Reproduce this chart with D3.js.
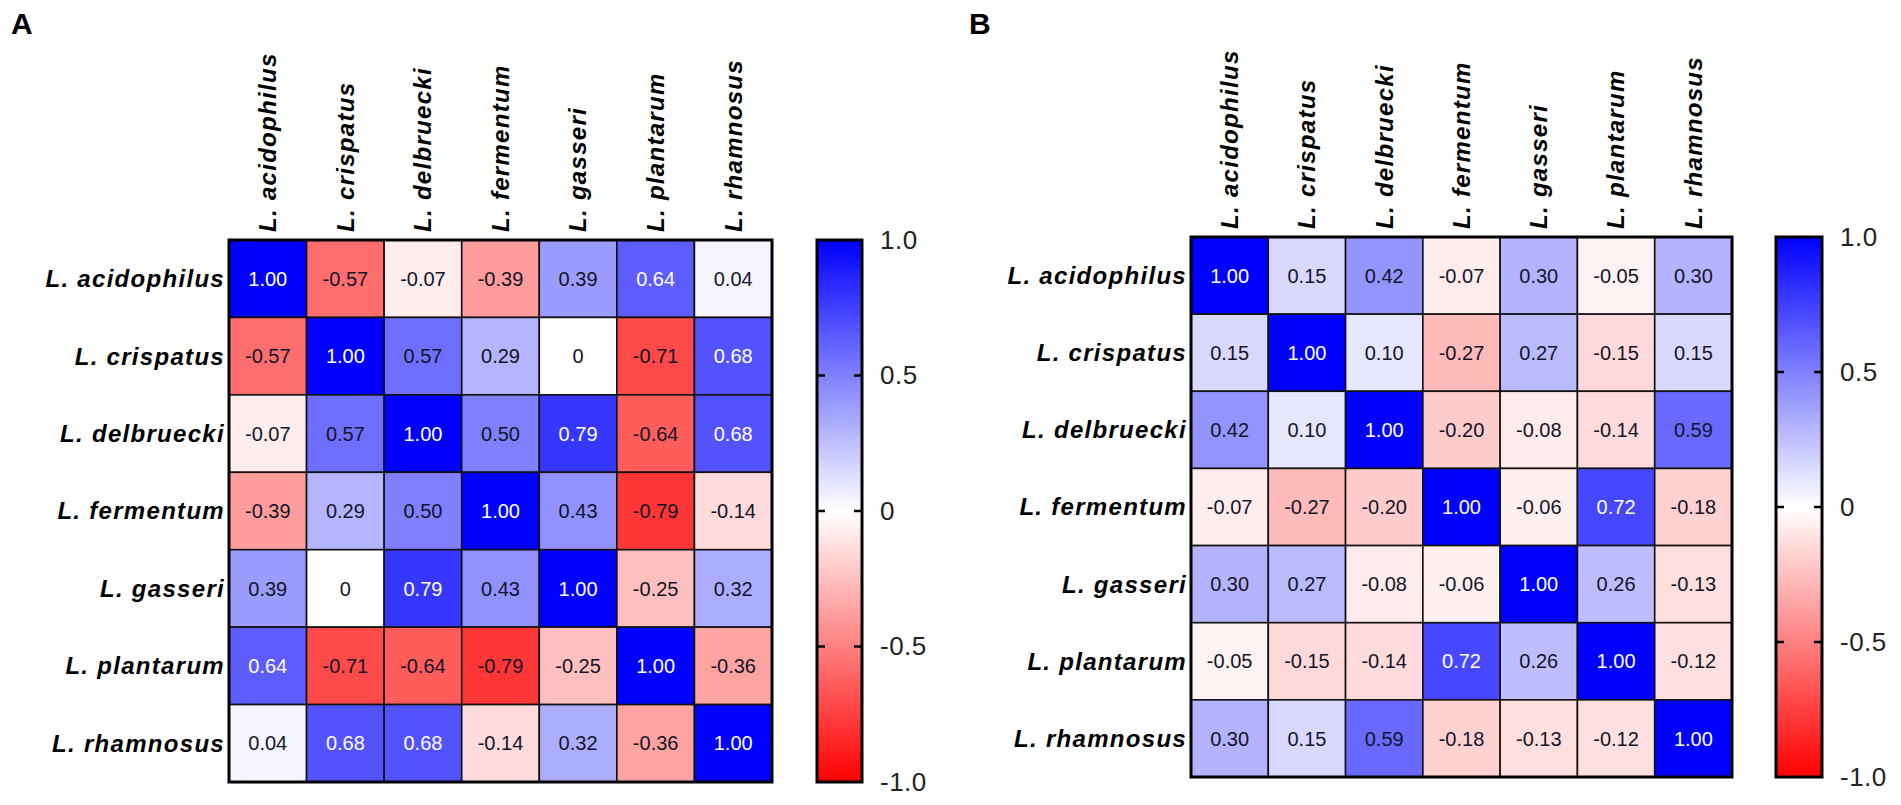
<!DOCTYPE html>
<html>
<head>
<meta charset="utf-8">
<script src="https://cdn.jsdelivr.net/npm/d3@7"></script>
<style>
  body { margin: 0; background: #fff; }
  svg { display: block; }
</style>
</head>
<body>
<div id="chart"></div>
<script>
const species = ["L. acidophilus", "L. crispatus", "L. delbruecki", "L. fermentum", "L. gasseri", "L. plantarum", "L. rhamnosus"];

// panel A correlation matrix (rows in species order)
const matrixA = [
  [1.00, -0.57, -0.07, -0.39, 0.39, 0.64, 0.04],
  [-0.57, 1.00, 0.57, 0.29, 0, -0.71, 0.68],
  [-0.07, 0.57, 1.00, 0.50, 0.79, -0.64, 0.68],
  [-0.39, 0.29, 0.50, 1.00, 0.43, -0.79, -0.14],
  [0.39, 0, 0.79, 0.43, 1.00, -0.25, 0.32],
  [0.64, -0.71, -0.64, -0.79, -0.25, 1.00, -0.36],
  [0.04, 0.68, 0.68, -0.14, 0.32, -0.36, 1.00]
];

// panel B correlation matrix
const matrixB = [
  [1.00, 0.15, 0.42, -0.07, 0.30, -0.05, 0.30],
  [0.15, 1.00, 0.10, -0.27, 0.27, -0.15, 0.15],
  [0.42, 0.10, 1.00, -0.20, -0.08, -0.14, 0.59],
  [-0.07, -0.27, -0.20, 1.00, -0.06, 0.72, -0.18],
  [0.30, 0.27, -0.08, -0.06, 1.00, 0.26, -0.13],
  [-0.05, -0.15, -0.14, 0.72, 0.26, 1.00, -0.12],
  [0.30, 0.15, 0.59, -0.18, -0.13, -0.12, 1.00]
];

const scaleTicks = [1.0, 0.5, 0, -0.5, -1.0];
const scaleTickLabels = ["1.0", "0.5", "0", "-0.5", "-1.0"];

const W = 1901, H = 805;
const FONT = "Arial, 'Liberation Sans', Helvetica, sans-serif";

const color = d3.scaleLinear()
  .domain([-1, 0, 1])
  .range(["#ff0000", "#ffffff", "#0000ff"]);

// plain hyphen for negatives, like the original
const fmt = v => v === 0 ? "0" : v.toFixed(2);

const svg = d3.select("#chart").append("svg")
  .attr("width", W)
  .attr("height", H)
  .style("background-color", "white");

const defs = svg.append("defs");

const drawPanel = (matrix, letter, opts, id) => {
  const { letterX, gx, gy, gw, gh, barX, barW } = opts;

  svg.append("text")
    .attr("x", letterX)
    .attr("y", 34)
    .style("font-family", FONT)
    .style("font-weight", "bold")
    .style("font-size", "30px")
    .text(letter);

  const x = d3.scaleBand().domain(species).range([gx, gx + gw]);
  const y = d3.scaleBand().domain(species).range([gy, gy + gh]);

  const cells = matrix.flatMap((row, i) =>
    row.map((v, j) => ({ r: species[i], c: species[j], v })));

  const g = svg.append("g");

  g.selectAll("rect.cell")
    .data(cells)
    .join("rect")
      .attr("class", "cell")
      .attr("x", d => x(d.c))
      .attr("y", d => y(d.r))
      .attr("width", x.bandwidth())
      .attr("height", y.bandwidth())
      .style("fill", d => color(d.v))
      .style("stroke", "#111")
      .style("stroke-width", 1.6);

  g.selectAll("text.val")
    .data(cells)
    .join("text")
      .attr("class", "val")
      .attr("x", d => x(d.c) + x.bandwidth() / 2)
      .attr("y", d => y(d.r) + y.bandwidth() / 2)
      .attr("dy", "0.36em")
      .attr("text-anchor", "middle")
      .style("font-family", FONT)
      .style("font-size", "20px")
      .style("fill", d => d.v > 0.6 ? "#ffffff" : "#141428")
      .text(d => fmt(d.v));

  g.append("rect")
    .attr("x", gx)
    .attr("y", gy)
    .attr("width", gw)
    .attr("height", gh)
    .style("fill", "none")
    .style("stroke", "#000")
    .style("stroke-width", 3);

  // row labels
  g.selectAll("text.row")
    .data(species)
    .join("text")
      .attr("class", "row")
      .attr("x", gx - 4)
      .attr("y", d => y(d) + y.bandwidth() / 2)
      .attr("dy", "0.35em")
      .attr("text-anchor", "end")
      .style("font-family", FONT)
      .style("font-weight", "bold")
      .style("font-style", "italic")
      .style("font-size", "24px")
      .style("letter-spacing", "1.3px")
      .text(d => d);

  // column labels, rotated
  g.selectAll("text.col")
    .data(species)
    .join("text")
      .attr("class", "col")
      .attr("transform", d => `translate(${x(d) + x.bandwidth() / 2}, ${gy - 8}) rotate(-90)`)
      .attr("dy", "0.35em")
      .attr("text-anchor", "start")
      .style("font-family", FONT)
      .style("font-weight", "bold")
      .style("font-style", "italic")
      .style("font-size", "24px")
      .style("letter-spacing", "1.3px")
      .text(d => d);

  // colour bar, top = +1 so stops go from 1 down to -1
  const cy = d3.scaleLinear().domain([1, -1]).range([gy, gy + gh]);
  const grad = defs.append("linearGradient")
    .attr("id", id)
    .attr("x1", 0).attr("y1", 0)
    .attr("x2", 0).attr("y2", 1);
  d3.range(1, -1.01, -0.25).forEach(v => {
    grad.append("stop")
      .attr("offset", (1 - v) / 2)
      .attr("stop-color", color(v));
  });

  svg.append("rect")
    .attr("x", barX)
    .attr("y", gy)
    .attr("width", barW)
    .attr("height", gh)
    .style("fill", `url(#${id})`)
    .style("stroke", "#000")
    .style("stroke-width", 3);

  const inner = scaleTicks.filter(t => Math.abs(t) < 1);
  svg.selectAll(`line.tl-${id}`)
    .data(inner)
    .join("line")
      .attr("class", `tl-${id}`)
      .attr("x1", barX).attr("x2", barX + 8)
      .attr("y1", d => cy(d)).attr("y2", d => cy(d))
      .style("stroke", "#000").style("stroke-width", 2.5);
  svg.selectAll(`line.tr-${id}`)
    .data(inner)
    .join("line")
      .attr("class", `tr-${id}`)
      .attr("x1", barX + barW - 8).attr("x2", barX + barW)
      .attr("y1", d => cy(d)).attr("y2", d => cy(d))
      .style("stroke", "#000").style("stroke-width", 2.5);

  const axis = svg.append("g")
    .attr("transform", `translate(${barX + barW}, 0)`)
    .call(d3.axisRight(cy)
      .tickValues(scaleTicks)
      .tickFormat((d, i) => scaleTickLabels[i])
      .tickSize(0)
      .tickPadding(18));
  axis.select(".domain").remove();
  axis.selectAll("text")
    .style("font-family", FONT)
    .style("font-size", "26px")
    .style("fill", "#222")
    .style("letter-spacing", "0.5px");
};

drawPanel(matrixA, "A", { letterX: 11, gx: 229, gy: 240, gw: 543, gh: 542, barX: 817, barW: 45 }, "gradA");
drawPanel(matrixB, "B", { letterX: 969, gx: 1191, gy: 237, gw: 541, gh: 540, barX: 1776, barW: 46 }, "gradB");
</script>
</body>
</html>
